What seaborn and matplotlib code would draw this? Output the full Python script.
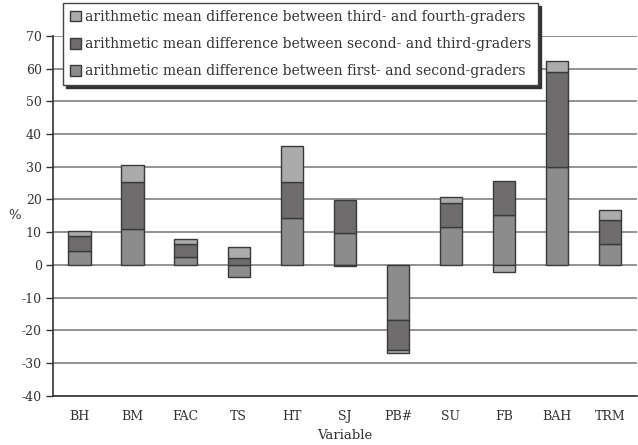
import numpy as np
import pandas as pd
import seaborn as sns
import matplotlib.pyplot as plt

# variables on the x axis
variables = ['BH', 'BM', 'FAC', 'TS', 'HT', 'SJ', 'PB#', 'SU', 'FB', 'BAH', 'TRM']

# arithmetic mean differences, %
first_second = [4.2, 10.9, 2.3, -3.6, 14.2, 9.6, -16.8, 11.7, 15.3, 29.8, 6.3]
second_third = [4.6, 14.4, 4.0, 2.2, 11.3, 10.3, -9.2, 7.2, 10.5, 29.1, 7.5]
third_fourth = [1.7, 5.1, 1.5, 3.3, 10.8, -0.3, -1.0, 2.0, -2.2, 3.5, 3.0]

series_labels = ['arithmetic mean difference between first- and second-graders',
                 'arithmetic mean difference between second- and third-graders',
                 'arithmetic mean difference between third- and fourth-graders']
colors = ['#8c8c8c', '#6e6c6d', '#ababab']

y_ticks = list(range(-40, 71, 10))

sns.set_style('white')
plt.rcParams['font.family'] = ['DejaVu Serif']
plt.rcParams['axes.unicode_minus'] = False

df = pd.DataFrame({'Variable': variables,
                   series_labels[0]: first_second,
                   series_labels[1]: second_third,
                   series_labels[2]: third_fourth})

fig = plt.figure(figsize=(6.38, 4.45), dpi=100)
ax = fig.add_axes([0.083, 0.111, 0.915, 0.808])

# stack positives upward and negatives downward, like the original
x = np.arange(len(variables))
pos_base = np.zeros(len(variables))
neg_base = np.zeros(len(variables))
handles = []
for label, color in zip(series_labels, colors):
    vals = df[label].to_numpy()
    bottom = np.where(vals >= 0, pos_base, neg_base)
    h = ax.bar(x, vals, bottom=bottom, width=0.42, color=color,
               edgecolor='#3a3a3a', linewidth=1.0, zorder=3, label=label)
    handles.append(h)
    pos_base = pos_base + np.clip(vals, 0, None)
    neg_base = neg_base + np.clip(vals, None, 0)

ax.set_ylim(-40, 70)
ax.set_yticks(y_ticks)
ax.set_xlim(-0.5, len(variables) - 0.5)
ax.set_xticks(x)
ax.set_xticklabels(variables)
ax.yaxis.grid(True, color='#8a8a8a', linewidth=1.3, zorder=0)
ax.xaxis.grid(False)

for side in ['top', 'right']:
    ax.spines[side].set_visible(False)
ax.spines['left'].set_color('#333333')
ax.spines['bottom'].set_color('#333333')
ax.spines['left'].set_linewidth(1.2)
ax.spines['bottom'].set_linewidth(1.2)

ax.tick_params(axis='y', left=True, length=5, width=1, color='#333333',
               labelsize=9, labelcolor='#333333', pad=3)
ax.tick_params(axis='x', bottom=False, labelsize=9, labelcolor='#333333', pad=7)

ax.set_xlabel('Variable', fontsize=9.5, color='#333333', labelpad=4)
ax.set_ylabel('%', fontsize=9.5, color='#333333', rotation=0, va='center', ha='center')
ax.yaxis.set_label_coords(-0.065, 0.5)

leg = ax.legend(handles[::-1], series_labels[::-1], loc='upper left',
                bbox_to_anchor=(63 / 638, 1 - 3 / 445), bbox_transform=fig.transFigure,
                fontsize=10, frameon=True, fancybox=False, framealpha=1,
                edgecolor='#444444', handlelength=0.8, handleheight=0.8,
                handletextpad=0.3, labelspacing=0.95, borderpad=0.5,
                borderaxespad=0, shadow={'color': '#333333', 'alpha': 1})
leg.get_frame().set_linewidth(1.0)
for t in leg.get_texts():
    t.set_color('#333333')
leg.set_zorder(10)

fig.savefig('out.png', dpi=100)
plt.close(fig)
